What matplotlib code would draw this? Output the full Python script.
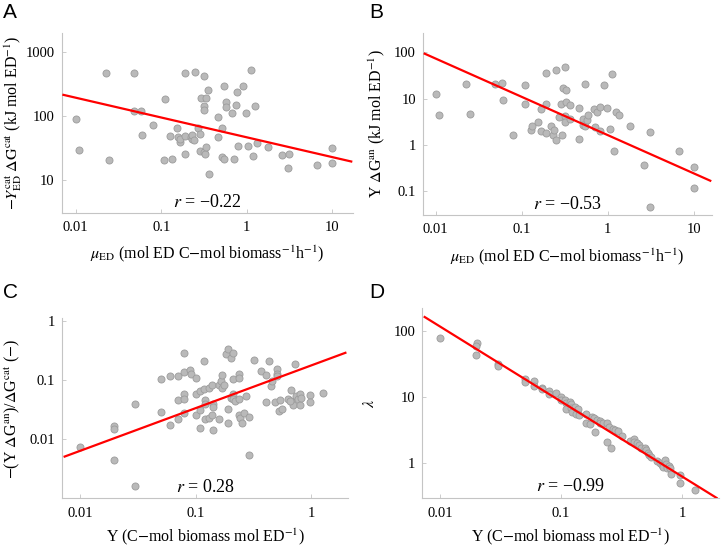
import numpy as np
import matplotlib
matplotlib.use("Agg")
import matplotlib.pyplot as plt

plt.rcParams["font.family"] = ["Liberation Serif", "DejaVu Serif"]
plt.rcParams["mathtext.fontset"] = "stix"

# Panel A: mu_ED vs -Y_ED^cat dG^cat
a_x = [0.01, 0.011, 0.0224, 0.0247, 0.0485, 0.0485, 0.0585, 0.06, 0.0795, 0.11,
       0.109, 0.128, 0.133, 0.153, 0.157, 0.166, 0.165, 0.19, 0.19, 0.19,
       0.221, 0.228, 0.232, 0.245, 0.246, 0.269, 0.286, 0.286, 0.294, 0.313,
       0.313, 0.316, 0.33, 0.32, 0.325, 0.335, 0.355, 0.36, 0.457, 0.457,
       0.513, 0.517, 0.54, 0.54, 0.571, 0.58, 0.677, 0.71, 0.74, 0.78,
       0.8, 0.9, 0.98, 1.05, 1.13, 1.18, 1.24, 1.33, 1.79, 2.58,
       3.09, 3.07, 6.6, 10.0, 10.0]
a_y = [90, 29.5, 480, 21, 470, 122, 122, 51, 74, 188,
       21, 49.5, 21.6, 66, 46.6, 40, 44, 470, 49, 25.5,
       48, 44, 50, 43, 486, 65, 52, 29, 193, 421,
       145, 126, 193, 28, 25.5, 32.5, 260, 12.3, 99, 48,
       23, 66, 21.7, 300, 165, 141, 113, 21.7, 148, 242,
       34.5, 297, 111, 34, 535, 23.5, 145, 38.5, 33.5, 24.5,
       26, 15.2, 17, 32, 18.2]

# Panel B: mu_ED vs Y dG^an
b_x = [0.01, 0.011, 0.0225, 0.0248, 0.0489, 0.0585, 0.06, 0.08, 0.109, 0.109,
       0.128, 0.133, 0.155, 0.165, 0.165, 0.19, 0.19, 0.193, 0.22, 0.23,
       0.237, 0.248, 0.248, 0.27, 0.286, 0.29, 0.3, 0.315, 0.32, 0.32,
       0.33, 0.33, 0.36, 0.36, 0.462, 0.462, 0.51, 0.51, 0.542, 0.542,
       0.575, 0.59, 0.69, 0.71, 0.74, 0.8, 0.8, 0.9, 0.98, 1.06,
       1.13, 1.19, 1.25, 1.33, 1.79, 2.63, 3.1, 3.1, 6.7, 10.0,
       10.0]
b_y = [12.6, 4.4, 21, 4.7, 21, 22, 9.5, 1.63, 19.6, 7.5,
       2.09, 2.55, 3.16, 6.05, 2.02, 36, 1.77, 7.5, 2.6, 1.66,
       2.09, 41.5, 1.29, 4.0, 7.6, 1.62, 16.6, 47.4, 4.2, 3.16,
       15, 8.4, 7.2, 3.6, 6.15, 1.36, 3.6, 2.7, 20.5, 2.55,
       3.35, 4.4, 5.85, 2.43, 5.0, 6.7, 1.99, 20, 6.1, 2.2,
       33.4, 0.72, 5.0, 4.3, 2.5, 0.36, 1.86, 0.045, 0.73, 0.33,
       0.115]

# Panel C: Y vs -(Y dG^an)/dG^cat
c_x = [0.01, 0.0198, 0.0198, 0.0198, 0.03, 0.03, 0.05, 0.05, 0.06, 0.06,
       0.07, 0.07, 0.07, 0.0795, 0.08, 0.08, 0.08, 0.08, 0.089, 0.091,
       0.1, 0.1, 0.1, 0.109, 0.109, 0.11, 0.119, 0.119, 0.12, 0.12,
       0.12, 0.131, 0.131, 0.138, 0.14, 0.14, 0.138, 0.14, 0.158, 0.159,
       0.167, 0.17, 0.17, 0.175, 0.181, 0.19, 0.19, 0.19, 0.2, 0.2,
       0.21, 0.21, 0.21, 0.21, 0.22, 0.237, 0.237, 0.237, 0.237, 0.24,
       0.25, 0.26, 0.27, 0.29, 0.29, 0.322, 0.37, 0.405, 0.405, 0.43,
       0.45, 0.46, 0.48, 0.5, 0.5, 0.5, 0.53, 0.56, 0.54, 0.63,
       0.67, 0.67, 0.7, 0.72, 0.74, 0.76, 0.79, 0.8, 0.81, 0.97,
       0.97, 1.27, 0.65]
c_y = [0.0075, 0.017, 0.0146, 0.0044, 0.039, 0.0016, 0.105, 0.029, 0.117, 0.0175,
       0.117, 0.046, 0.022, 0.289, 0.138, 0.059, 0.048, 0.0274, 0.147, 0.128,
       0.11, 0.058, 0.0257, 0.066, 0.0156, 0.0316, 0.209, 0.07, 0.046, 0.039,
       0.022, 0.072, 0.023, 0.082, 0.039, 0.035, 0.026, 0.0145, 0.022, 0.084,
       0.097, 0.121, 0.072, 0.084, 0.274, 0.337, 0.033, 0.019, 0.049, 0.24,
       0.289, 0.104, 0.058, 0.048, 0.044, 0.126, 0.107, 0.048, 0.026, 0.023,
       0.019, 0.028, 0.054, 0.024, 0.0055, 0.217, 0.14, 0.123, 0.043, 0.209,
       0.079, 0.097, 0.042, 0.151, 0.126, 0.118, 0.030, 0.032, 0.046, 0.047,
       0.068, 0.044, 0.038, 0.184, 0.054, 0.048, 0.038, 0.058, 0.049, 0.056,
       0.042, 0.06, 0.044]

# Panel D: Y vs lambda
d_x = [0.01, 0.0201, 0.02, 0.02, 0.03, 0.03, 0.05, 0.05, 0.06, 0.06,
       0.07, 0.07, 0.08, 0.08, 0.09, 0.1, 0.1, 0.107, 0.11, 0.11,
       0.118, 0.12, 0.12, 0.124, 0.13, 0.132, 0.139, 0.14, 0.16, 0.16,
       0.172, 0.18, 0.189, 0.186, 0.197, 0.21, 0.21, 0.22, 0.24, 0.24,
       0.26, 0.25, 0.27, 0.28, 0.295, 0.32, 0.37, 0.4, 0.4, 0.42,
       0.44, 0.46, 0.49, 0.5, 0.52, 0.53, 0.55, 0.62, 0.65, 0.68,
       0.7, 0.72, 0.73, 0.75, 0.78, 0.8, 0.81, 0.95, 0.95, 1.27]
d_y = [80, 66, 59, 43, 32, 30, 18.6, 17.2, 17.5, 14.9,
       14, 13.2, 12.5, 11.3, 11.6, 10, 9.2, 9.0, 8.1, 6.6,
       8.4, 7.8, 6.9, 6.0, 7.2, 5.5, 6.7, 5.4, 5.5, 4.1,
       3.9, 5.0, 3.0, 4.8, 4.6, 4.3, 4.1, 4.1, 4.1, 2.08,
       1.7, 3.6, 3.3, 3.2, 3.1, 2.6, 2.2, 2.3, 2.1, 2.0,
       1.9, 1.7, 1.7, 1.6, 1.45, 1.35, 1.25, 1.1, 1.0, 0.95,
       0.88, 1.12, 0.98, 0.84, 0.92, 0.86, 0.7, 0.66, 0.51, 0.4]

# log-log fits: (value at x = 1, slope)
fits = {"A": (46.8, -0.31), "B": (1.61, -0.829), "C": (0.177, 0.723), "D": (0.63, -1.136)}
r_values = {"A": "\u22120.22", "B": "\u22120.53", "C": "0.28", "D": "\u22120.99"}

xlabel_mu = r"$\mu_{\rm ED}$ (mol ED C$-$mol biomass$^{-1}$h$^{-1}$)"
xlabel_Y = r"Y (C$-$mol biomass mol ED$^{-1}$)"

panels = [
    ("A", a_x, a_y, [0.0848, 0.6127, 0.400, 0.327], (0.00686, 17.5), (3.05, 2000),
     [0.01, 0.1, 1, 10], ["0.01", "0.1", "1", "10"], [10, 100, 1000], ["10", "100", "1000"],
     xlabel_mu, r"$-\mathit{Y}^{\rm cat}_{\rm ED}\;\Delta\mathrm{G}^{\rm cat}$ (kJ mol ED$^{-1}$)",
     (-0.128, -0.17)),
    ("B", b_x, b_y, [0.581, 0.609, 0.397, 0.331], (0.0071, 16.2), (0.030, 263),
     [0.01, 0.1, 1, 10], ["0.01", "0.1", "1", "10"], [0.1, 1, 10, 100], ["0.1", "1", "10", "100"],
     xlabel_mu, r"Y $\Delta$G$^{\rm an}$ (kJ mol ED$^{-1}$)",
     (-0.125, -0.175)),
    ("C", c_x, c_y, [0.0856, 0.094, 0.392, 0.327], (0.00703, 2.06), (0.001, 1.1),
     [0.01, 0.1, 1], ["0.01", "0.1", "1"], [0.01, 0.1, 1], ["0.01", "0.1", "1"],
     xlabel_Y, r"$-$(Y $\Delta$G$^{\rm an}$)/$\Delta$G$^{\rm cat}$ ($-$)",
     (-0.14, -0.158)),
    ("D", d_x, d_y, [0.580, 0.094, 0.4076, 0.346], (0.00715, 2.01), (0.296, 224),
     [0.01, 0.1, 1], ["0.01", "0.1", "1"], [1, 10, 100], ["1", "10", "100"],
     xlabel_Y, r"$\lambda$",
     (-0.149, -0.15)),
]

fig = plt.figure(figsize=(7.28, 5.5), dpi=100)
spine_col = "#c4c4c4"

for letter, xs, ys, rect, xlim, ylim, xt, xtl, yt, ytl, xl, yl, lab_pos in panels:
    ax = fig.add_axes(rect)
    ax.set_xscale("log")
    ax.set_yscale("log")
    ax.scatter(xs, ys, s=26, facecolor="#b9b9b9", edgecolor="#9c9c9c", linewidth=0.6, zorder=2)
    c0, slope = fits[letter]
    xx = np.logspace(np.log10(xlim[0]) + 0.02, np.log10(xlim[1]) - 0.02, 50)
    ax.plot(xx, c0 * xx ** slope, color="#ff0000", linewidth=1.6, zorder=3)
    ax.set_xlim(*xlim)
    ax.set_ylim(*ylim)
    ax.set_xticks(xt)
    ax.set_xticklabels(xtl)
    ax.set_yticks(yt)
    ax.set_yticklabels(ytl)
    ax.minorticks_off()
    ax.tick_params(direction="in", length=3, width=0.6, color=spine_col, labelsize=10.5)
    ax.tick_params(axis="x", pad=6)
    ax.tick_params(axis="y", pad=5)
    for side in ("top", "right"):
        ax.spines[side].set_visible(False)
    for side in ("left", "bottom"):
        ax.spines[side].set_color(spine_col)
        ax.spines[side].set_linewidth(0.8)
    ax.set_xlabel(xl, fontsize=11.5)
    ax.set_ylabel(yl, fontsize=11.5)
    ax.yaxis.set_label_coords(lab_pos[0], 0.5)
    ax.xaxis.set_label_coords(0.5, lab_pos[1])
    ax.text(0.5, 0.06, r"$r$ = " + r_values[letter], transform=ax.transAxes,
            ha="center", va="center", fontsize=13)
    ax.set_facecolor("none")

# panel letters
for letter, (px, py) in zip("ABCD", [(3, 13), (369, 13), (3, 292), (369, 292)]):
    fig.text(px / 728, 1 - py / 550, letter, fontsize=15, family="Liberation Sans",
             ha="left", va="center")

fig.savefig("out.png", dpi=100)
